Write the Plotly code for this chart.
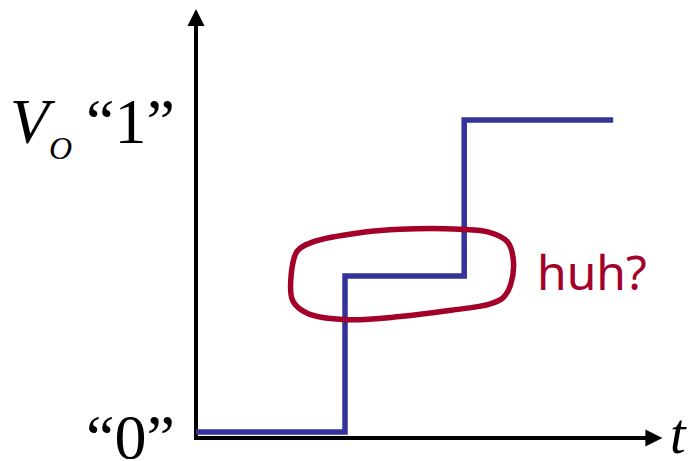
import plotly.graph_objects as go

# ---- data (t in arbitrary units, V in logic units) ----
step_t = [0.0, 1.0, 1.0, 1.8, 1.8, 2.8]
step_v = [0.0, 0.0, 0.5, 0.5, 1.0, 1.0]

# hand-drawn "huh?" loop
loop_t = [1.37, 1.77, 1.97, 2.09, 2.13, 2.11, 2.06, 1.97, 1.71, 1.37,
          1.01, 0.75, 0.65, 0.64, 0.68, 0.79, 1.12, 1.37]
loop_v = [0.65, 0.65, 0.64, 0.61, 0.55, 0.47, 0.43, 0.41, 0.39, 0.37,
          0.36, 0.38, 0.42, 0.51, 0.58, 0.61, 0.64, 0.65]

# axes extents
axis_t = [0.0, 0.0, 3.05]
axis_v = [1.30, -0.019, -0.019]
y_tip = 1.356
x_tip = 3.13

W, H = 698, 461
# view window (data units)
x_range = [-196 / 149, (W - 196) / 149]
y_range = [(432 - H) / 312, 432 / 312]

fig = go.Figure()

# axis lines
fig.add_trace(go.Scatter(x=axis_t, y=axis_v, mode="lines",
                         line=dict(color="black", width=4),
                         hoverinfo="skip", showlegend=False))
# step response
fig.add_trace(go.Scatter(x=step_t, y=step_v, mode="lines",
                         line=dict(color="#333399", width=5.5),
                         hoverinfo="skip", showlegend=False))
# red loop
fig.add_trace(go.Scatter(x=loop_t, y=loop_v, mode="lines",
                         line=dict(color="#A3002A", width=5.5, shape="spline", smoothing=1.0),
                         hoverinfo="skip", showlegend=False))

# arrow heads
fig.add_annotation(x=0, y=y_tip, ax=0, ay=1.2, xref="x", yref="y", axref="x", ayref="y",
                   text="", showarrow=True, arrowhead=2, arrowsize=0.85, arrowwidth=4,
                   arrowcolor="black")
fig.add_annotation(x=x_tip, y=-0.019, ax=2.95, ay=-0.019, xref="x", yref="y", axref="x", ayref="y",
                   text="", showarrow=True, arrowhead=2, arrowsize=0.85, arrowwidth=4,
                   arrowcolor="black")

serif = "Liberation Serif, Times New Roman, serif"

def px(xp, yp):
    return dict(x=xp / W, y=1 - yp / H, xref="paper", yref="paper")

fig.add_annotation(**px(8, 121), text="<i>V</i>", showarrow=False, xanchor="left", yanchor="middle",
                   height=50, font=dict(family=serif, size=64, color="black"))
fig.add_annotation(**px(47, 148), text="<i>O</i>", showarrow=False, xanchor="left", yanchor="middle",
                   height=24, font=dict(family=serif, size=32, color="black"))
fig.add_annotation(**px(84, 121), text="\u201c1\u201d", showarrow=False, xanchor="left", yanchor="middle",
                   height=50, font=dict(family=serif, size=64, color="black"))
fig.add_annotation(**px(84, 437), text="\u201c0\u201d", showarrow=False, xanchor="left", yanchor="middle",
                   height=44, font=dict(family=serif, size=64, color="black"))
fig.add_annotation(**px(668, 434), text="<i>t</i>", showarrow=False, xanchor="left", yanchor="middle",
                   height=40, font=dict(family=serif, size=56, color="black"))
fig.add_annotation(**px(535, 271), text="huh?", showarrow=False, xanchor="left", yanchor="middle",
                   font=dict(family="Noto Sans, sans-serif", size=48, color="#A3002A"))

fig.update_layout(
    width=W, height=H,
    margin=dict(l=0, r=0, t=0, b=0),
    paper_bgcolor="white", plot_bgcolor="white",
    xaxis=dict(range=x_range, visible=False, fixedrange=True),
    yaxis=dict(range=y_range, visible=False, fixedrange=True),
    showlegend=False,
)

fig.write_html("out.html", config={"displayModeBar": False},
               post_script="document.body.style.margin='0';document.body.style.overflow='hidden';")
